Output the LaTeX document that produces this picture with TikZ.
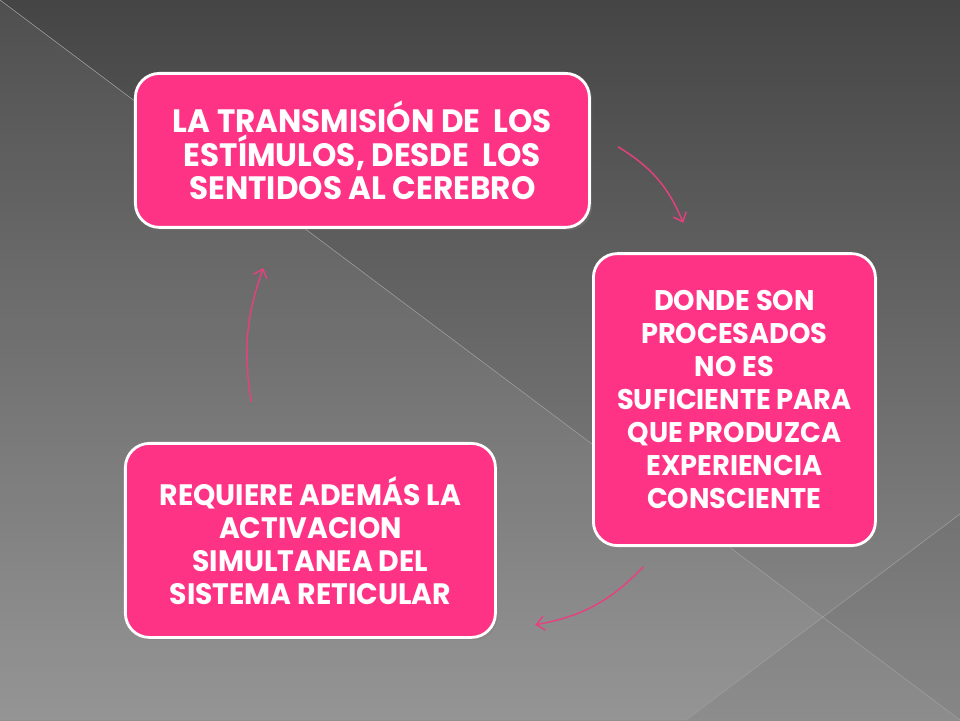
\documentclass[tikz,border=0pt]{standalone}
\usepackage{fontspec}
\setmainfont{Poppins}[FakeStretch=0.96]
\usetikzlibrary{arrows.meta,shadows}
\definecolor{rosa}{HTML}{FF3385}
\definecolor{rosaflecha}{HTML}{E8407F}
\tikzset{
  caja/.style={rectangle,rounded corners=0.6cm,fill=rosa,draw=white,line width=2pt,
    text=white,font=\bfseries\fontsize{23}{24}\selectfont,align=center,
    drop shadow={opacity=0.35,shadow xshift=0.07cm,shadow yshift=-0.07cm}},
  chica/.style={font=\bfseries\fontsize{#1}{23.5}\selectfont},
  flecha/.style={rosaflecha,line width=1pt,-{Straight Barb[length=2mm,width=3.5mm]}}
}
\begin{document}
\begin{tikzpicture}
        \useasboundingbox (0,0) rectangle (24,18);
        % fondo
        \fill[top color=black!73,bottom color=black!44] (0,0) rectangle (24,18);
        \fill[white,opacity=0.06] (0,18) -- (24,0) -- (0,0) -- cycle;
        \fill[black,opacity=0.05] (24,5.15) -- (17.15,0) -- (24,0) -- cycle;
        \draw[gray!75,line width=0.4pt] (0,18) -- (24,0);
        \draw[gray!75,line width=0.4pt] (24,5.15) -- (17.15,0);
        % cajas
        \node[caja,minimum width=11.35cm,minimum height=3.85cm] (trans) at (9.06,14.24)
          {LA TRANSMISIÓN DE\ \ LOS\\ESTÍMULOS, DESDE\ \ LOS\\SENTIDOS AL CEREBRO};
        \node[caja,chica=20.2,minimum width=7.05cm,minimum height=7.3cm] (donde) at (18.36,8.01)
          {DONDE SON\\PROCESADOS\\NO ES\\SUFICIENTE PARA\\QUE PRODUZCA\\EXPERIENCIA\\CONSCIENTE};
        \node[caja,chica=21,minimum width=9.25cm,minimum height=4.85cm] (requiere) at (7.76,4.49)
          {REQUIERE ADEMÁS LA\\ACTIVACION\\SIMULTANEA DEL\\SISTEMA RETICULAR};
        % flechas
        \coordinate (f1a) at (15.45,14.33);
        \coordinate (f1b) at (17.08,12.43);
        \coordinate (f2a) at (16.08,3.83);
        \coordinate (f2b) at (13.38,2.38);
        \coordinate (f3a) at (6.28,7.95);
        \coordinate (f3b) at (6.58,11.3);
        \draw[flecha] (f1a) to[bend left=18] (f1b);
        \draw[flecha] (f2a) to[bend left=18] (f2b);
        \draw[flecha] (f3a) to[bend left=14] (f3b);
\end{tikzpicture}
\end{document}
